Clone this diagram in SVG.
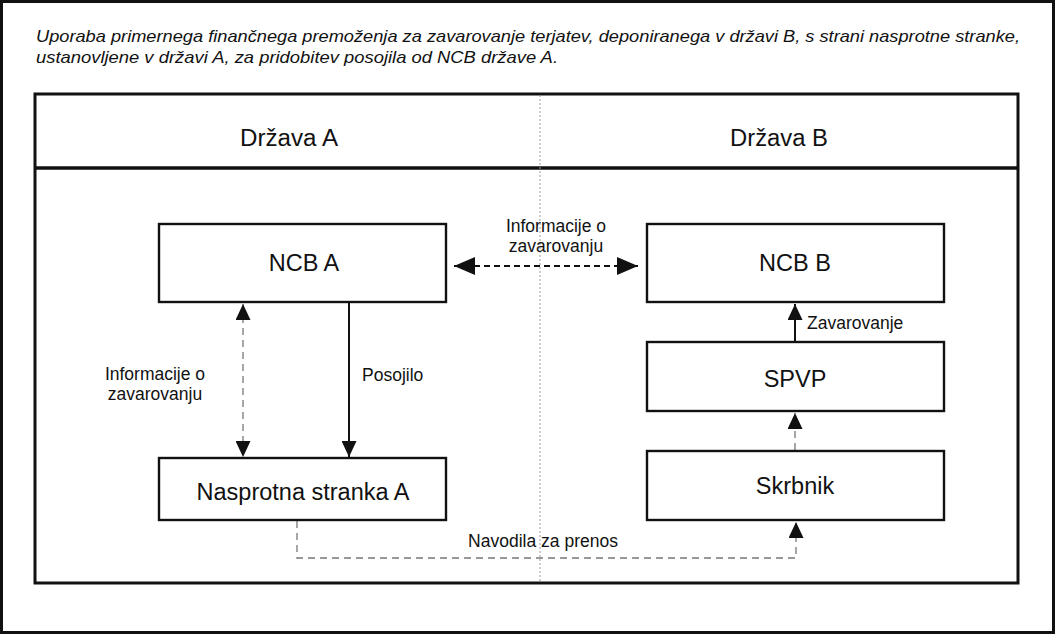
<svg xmlns="http://www.w3.org/2000/svg" width="1055" height="634" viewBox="0 0 1055 634">
<style>
text{font-family:"Liberation Sans",Arial,sans-serif;fill:#111}
.title{font-size:17px;font-style:italic}
.big{font-size:23.5px;text-anchor:middle}
.lbl{font-size:17.5px}
.box{fill:#fff;stroke:#111;stroke-width:2.4}
.solid{stroke:#111;stroke-width:2;fill:none}
.dash{stroke:#111;stroke-width:2;fill:none;stroke-dasharray:6 4}
.gdash{stroke:#777;stroke-width:1.3;fill:none;stroke-dasharray:7 5}
</style>
<defs>
<marker id="ah" viewBox="0 0 10 10" refX="10" refY="5" markerWidth="16" markerHeight="15" markerUnits="userSpaceOnUse" orient="auto-start-reverse" preserveAspectRatio="none">
<path d="M0,0 L10,5 L0,10 z" fill="#111"/>
</marker>
<marker id="ahb" viewBox="0 0 10 10" refX="10" refY="5" markerWidth="21" markerHeight="18" markerUnits="userSpaceOnUse" orient="auto-start-reverse" preserveAspectRatio="none">
<path d="M0,0 L10,5 L0,10 z" fill="#111"/>
</marker>
</defs>
<rect x="0" y="0" width="1055" height="634" fill="#fff"/>
<rect x="1.5" y="1.5" width="1052" height="631" fill="none" stroke="#111" stroke-width="3"/>
<text class="title" x="36" y="42" textLength="984" lengthAdjust="spacingAndGlyphs">Uporaba primernega finančnega premoženja za zavarovanje terjatev, deponiranega v državi B, s strani nasprotne stranke,</text>
<text class="title" x="36" y="63" textLength="522" lengthAdjust="spacingAndGlyphs">ustanovljene v državi A, za pridobitev posojila od NCB države A.</text>
<g id="frame">
<rect x="35" y="94" width="983" height="489" fill="none" stroke="#111" stroke-width="3"/>
<line x1="35" y1="168" x2="1018" y2="168" stroke="#111" stroke-width="3.5"/>
<line x1="540" y1="95" x2="540" y2="582" stroke="#999" stroke-width="1" stroke-dasharray="2 2"/>
<text class="big" x="289" y="146" textLength="98" lengthAdjust="spacingAndGlyphs">Država A</text>
<text class="big" x="779" y="146" textLength="98" lengthAdjust="spacingAndGlyphs">Država B</text>
</g>
<g id="connectors">
<line class="dash" x1="454" y1="266" x2="638" y2="266" marker-start="url(#ahb)" marker-end="url(#ahb)"/>
<line class="gdash" x1="243" y1="304" x2="243" y2="457" marker-start="url(#ah)" marker-end="url(#ah)"/>
<line class="solid" x1="349" y1="303" x2="349" y2="457" marker-end="url(#ah)"/>
<line class="solid" x1="795" y1="342" x2="795" y2="304" marker-end="url(#ah)"/>
<line class="gdash" x1="795" y1="450" x2="795" y2="413" marker-end="url(#ah)"/>
<path class="gdash" d="M297,521 V558 H796 V522" marker-end="url(#ah)"/>
<text class="lbl" x="556" y="232" text-anchor="middle">Informacije o</text>
<text class="lbl" x="556" y="252" text-anchor="middle">zavarovanju</text>
<text class="lbl" x="155" y="380" text-anchor="middle">Informacije o</text>
<text class="lbl" x="155" y="400" text-anchor="middle">zavarovanju</text>
<text class="lbl" x="362" y="381">Posojilo</text>
<text class="lbl" x="807" y="329">Zavarovanje</text>
<text class="lbl" x="543" y="547" text-anchor="middle">Navodila za prenos</text>
</g>
<g id="ncb-a"><rect class="box" x="159" y="224" width="287" height="78"/><text class="big" x="304" y="271">NCB A</text></g>
<g id="ncb-b"><rect class="box" x="647" y="224" width="297" height="78"/><text class="big" x="795" y="271">NCB B</text></g>
<g id="spvp"><rect class="box" x="647" y="342" width="297" height="69"/><text class="big" x="795" y="387">SPVP</text></g>
<g id="skrbnik"><rect class="box" x="647" y="451" width="297" height="69"/><text class="big" x="795" y="494">Skrbnik</text></g>
<g id="nasprotna"><rect class="box" x="159" y="458" width="287" height="62"/><text class="big" x="303" y="500">Nasprotna stranka A</text></g>
</svg>
